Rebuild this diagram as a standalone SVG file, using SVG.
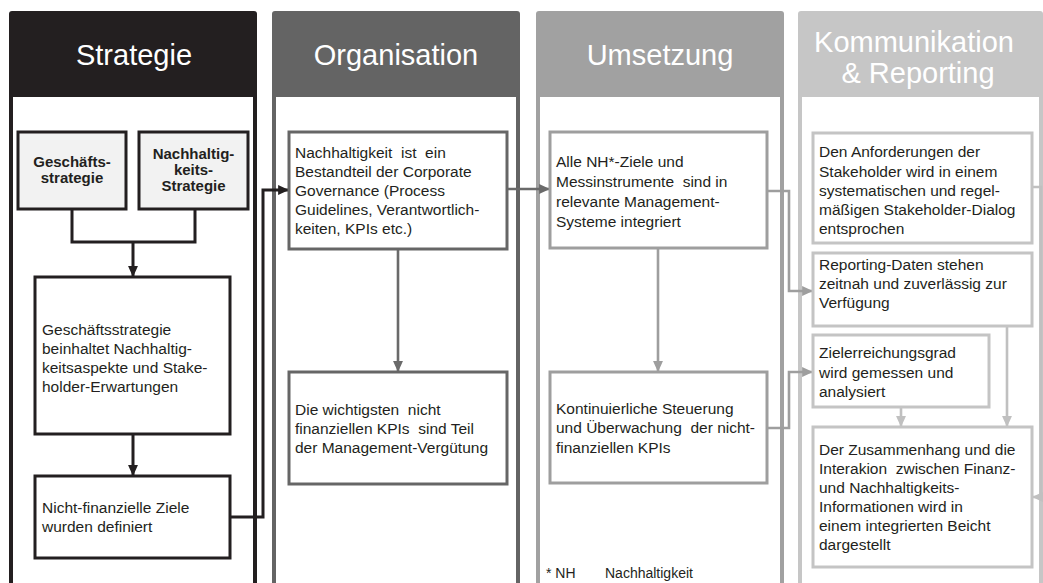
<svg xmlns="http://www.w3.org/2000/svg" width="1043" height="583" viewBox="0 0 1043 583" xml:space="preserve">
  <style>
    .hd { font-family: 'Liberation Sans', Arial, sans-serif; font-size: 29px; fill: #ffffff; text-anchor: middle; }
    .t { font-family: 'Liberation Sans', Arial, sans-serif; font-size: 15.5px; fill: #231f20; white-space: pre; }
    .tb { font-family: 'Liberation Sans', Arial, sans-serif; font-size: 15px; font-weight: bold; fill: #231f20; text-anchor: middle; }
    .fn { font-family: 'Liberation Sans', Arial, sans-serif; font-size: 14px; fill: #231f20; }
    .bx-k { fill: #ffffff; stroke: #231f20; stroke-width: 3; }
    .bx-kf { fill: #f2f2f2; stroke: #231f20; stroke-width: 3; }
    .bx-d { fill: #ffffff; stroke: #666666; stroke-width: 3; }
    .bx-m { fill: #ffffff; stroke: #9e9e9e; stroke-width: 3; }
    .bx-l { fill: #ffffff; stroke: #c4c4c4; stroke-width: 3; }
    .c { fill: none; stroke-width: 2.6; stroke-linejoin: miter; }
    .ck { stroke: #231f20; stroke-width: 3; }
    .cd { stroke: #6a6a6a; }
    .cm { stroke: #9e9e9e; }
    .cl { stroke: #c0c0c0; }
  </style>
  <defs>
    <marker id="ak" viewBox="0 0 10 10" refX="9" refY="5" markerWidth="11" markerHeight="11" markerUnits="userSpaceOnUse" orient="auto">
      <path d="M0,0.5 L10,5 L0,9.5 z" fill="#231f20"/>
    </marker>
    <marker id="ad" viewBox="0 0 10 10" refX="9" refY="5" markerWidth="11" markerHeight="11" markerUnits="userSpaceOnUse" orient="auto">
      <path d="M0,0.5 L10,5 L0,9.5 z" fill="#6a6a6a"/>
    </marker>
    <marker id="am" viewBox="0 0 10 10" refX="9" refY="5" markerWidth="11" markerHeight="11" markerUnits="userSpaceOnUse" orient="auto">
      <path d="M0,0.5 L10,5 L0,9.5 z" fill="#9e9e9e"/>
    </marker>
    <marker id="al" viewBox="0 0 10 10" refX="9" refY="5" markerWidth="11" markerHeight="11" markerUnits="userSpaceOnUse" orient="auto">
      <path d="M0,0.5 L10,5 L0,9.5 z" fill="#c0c0c0"/>
    </marker>
  </defs>

  <rect width="1043" height="583" fill="#ffffff"/>

  <!-- columns -->
  <g id="col-strategie">
    <rect x="9" y="11" width="248" height="590" rx="3" fill="#231f20"/>
    <rect x="13" y="97" width="240" height="500" fill="#ffffff"/>
    <text class="hd" x="134" y="65">Strategie</text>
  </g>
  <g id="col-organisation">
    <rect x="272" y="11" width="248" height="590" rx="3" fill="#646464"/>
    <rect x="276" y="97" width="240" height="500" fill="#ffffff"/>
    <text class="hd" x="396" y="65">Organisation</text>
  </g>
  <g id="col-umsetzung">
    <rect x="536" y="11" width="248" height="590" rx="3" fill="#a1a1a1"/>
    <rect x="540" y="97" width="240" height="500" fill="#ffffff"/>
    <text class="hd" x="660" y="65">Umsetzung</text>
  </g>
  <g id="col-kommunikation">
    <rect x="798" y="11" width="245" height="590" rx="3" fill="#c6c6c6"/>
    <rect x="802" y="97" width="237" height="500" fill="#ffffff"/>
    <text class="hd" x="914" y="52">Kommunikation</text>
    <text class="hd" x="918" y="83">&amp; Reporting</text>
  </g>

  <!-- connectors -->
  <g id="connectors">
    <path class="c ck" d="M72,209 V242 H195 V209"/>
    <path class="c ck" d="M133,242 V276" marker-end="url(#ak)"/>
    <path class="c ck" d="M133,434 V475" marker-end="url(#ak)"/>
    <path class="c ck" d="M230,517 H263 V190 H288" marker-end="url(#ak)"/>
    <path class="c cd" d="M398,249 V371" marker-end="url(#ad)"/>
    <path class="c cd" d="M507,189 H549" marker-end="url(#ad)"/>
    <path class="c cm" d="M658,248 V371" marker-end="url(#am)"/>
    <path class="c cm" d="M767,191 H789 V291 H812" marker-end="url(#am)"/>
    <path class="c cm" d="M767,428 H789 V372 H812" marker-end="url(#am)"/>
    <path class="c cl" d="M901,407 V426" marker-end="url(#al)"/>
    <path class="c cl" d="M1007,326 V426" marker-end="url(#al)"/>
    <path class="c cl" d="M1032,187 H1041 V497 H1033" marker-end="url(#al)"/>
  </g>

  <!-- Strategie nodes -->
  <g id="n-geschaeftsstrategie">
    <rect class="bx-kf" x="18" y="132" width="108" height="77"/>
    <text class="tb" x="72" y="167">Geschäfts-</text>
    <text class="tb" x="72" y="183">strategie</text>
  </g>
  <g id="n-nachhaltigkeitsstrategie">
    <rect class="bx-kf" x="139" y="132" width="109" height="77"/>
    <text class="tb" x="193.5" y="159">Nachhaltig-</text>
    <text class="tb" x="193.5" y="175">keits-</text>
    <text class="tb" x="193.5" y="191">Strategie</text>
  </g>
  <g id="n-geschaeftsstrategie-beinhaltet">
    <rect class="bx-k" x="35" y="277" width="195" height="157"/>
    <text class="t" x="42" y="335">Geschäftsstrategie</text>
    <text class="t" x="42" y="354">beinhaltet Nachhaltig-</text>
    <text class="t" x="42" y="373">keitsaspekte und Stake-</text>
    <text class="t" x="42" y="392">holder-Erwartungen</text>
  </g>
  <g id="n-nichtfinanzielle-ziele">
    <rect class="bx-k" x="35" y="476" width="195" height="82"/>
    <text class="t" x="42" y="513">Nicht-finanzielle Ziele</text>
    <text class="t" x="42" y="532">wurden definiert</text>
  </g>

  <!-- Organisation nodes -->
  <g id="n-corporate-governance">
    <rect class="bx-d" x="289" y="132" width="218" height="117"/>
    <text class="t" x="295" y="158">Nachhaltigkeit  ist  ein</text>
    <text class="t" x="295" y="177">Bestandteil der Corporate</text>
    <text class="t" x="295" y="196">Governance (Process</text>
    <text class="t" x="295" y="215">Guidelines, Verantwortlich-</text>
    <text class="t" x="295" y="234">keiten, KPIs etc.)</text>
  </g>
  <g id="n-management-verguetung">
    <rect class="bx-d" x="289" y="372" width="218" height="112"/>
    <text class="t" x="295" y="415">Die wichtigsten  nicht</text>
    <text class="t" x="295" y="434">finanziellen KPIs  sind Teil</text>
    <text class="t" x="295" y="453">der Management-Vergütung</text>
  </g>

  <!-- Umsetzung nodes -->
  <g id="n-management-systeme">
    <rect class="bx-m" x="550" y="132" width="217" height="116"/>
    <text class="t" x="556" y="167">Alle NH*-Ziele und</text>
    <text class="t" x="556" y="187">Messinstrumente  sind in</text>
    <text class="t" x="556" y="207">relevante Management-</text>
    <text class="t" x="556" y="227">Systeme integriert</text>
  </g>
  <g id="n-steuerung">
    <rect class="bx-m" x="550" y="372" width="217" height="111"/>
    <text class="t" x="556" y="414">Kontinuierliche Steuerung</text>
    <text class="t" x="556" y="433">und Überwachung  der nicht-</text>
    <text class="t" x="556" y="453">finanziellen KPIs</text>
  </g>
  <g id="footnote">
    <text class="fn" x="546" y="578">* NH</text>
    <text class="fn" x="605" y="578">Nachhaltigkeit</text>
  </g>

  <!-- Kommunikation & Reporting nodes -->
  <g id="n-stakeholder-dialog">
    <rect class="bx-l" x="813" y="133" width="219" height="110"/>
    <text class="t" x="819" y="157">Den Anforderungen der</text>
    <text class="t" x="819" y="177">Stakeholder wird in einem</text>
    <text class="t" x="819" y="196">systematischen und regel-</text>
    <text class="t" x="819" y="215">mäßigen Stakeholder-Dialog</text>
    <text class="t" x="819" y="234">entsprochen</text>
  </g>
  <g id="n-reporting-daten">
    <rect class="bx-l" x="813" y="253" width="219" height="73"/>
    <text class="t" x="819" y="270">Reporting-Daten stehen</text>
    <text class="t" x="819" y="289">zeitnah und zuverlässig zur</text>
    <text class="t" x="819" y="308">Verfügung</text>
  </g>
  <g id="n-zielerreichungsgrad">
    <rect class="bx-l" x="813" y="335" width="176" height="72"/>
    <text class="t" x="819" y="358">Zielerreichungsgrad</text>
    <text class="t" x="819" y="378">wird gemessen und</text>
    <text class="t" x="819" y="397">analysiert</text>
  </g>
  <g id="n-integrierter-bericht">
    <rect class="bx-l" x="813" y="427" width="219" height="140"/>
    <text class="t" x="819" y="455">Der Zusammenhang und die</text>
    <text class="t" x="819" y="474">Interakion  zwischen Finanz-</text>
    <text class="t" x="819" y="493">und Nachhaltigkeits-</text>
    <text class="t" x="819" y="512">Informationen wird in</text>
    <text class="t" x="819" y="531">einem integrierten Beicht</text>
    <text class="t" x="819" y="550">dargestellt</text>
  </g>
</svg>
